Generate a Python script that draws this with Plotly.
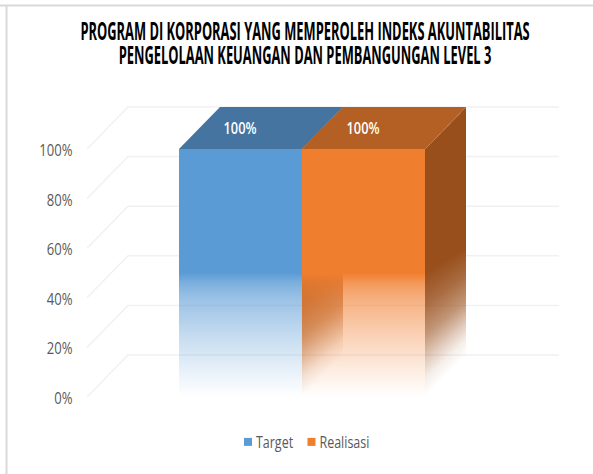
import plotly.graph_objects as go

TITLE_LINES = ["PROGRAM DI KORPORASI YANG MEMPEROLEH INDEKS AKUNTABILITAS",
               "PENGELOLAAN KEUANGAN DAN PEMBANGUNGAN LEVEL 3"]
series_names = ["Target", "Realisasi"]
series_values = [100, 100]
tick_values = [0, 20, 40, 60, 80, 100]
tick_labels = ["0%", "20%", "40%", "60%", "80%", "100%"]

W, H = 593, 474
FONT = "Open Sans"
L, R, T, B = 87, 34, 100, 77      # plot margins
BAR_PX = 123.0                     # one bar width, px
ORIGIN_PX = 302                    # px of the shared bar edge
Y_PX = 2.48                        # px per percent
DX = 41 / BAR_PX                   # depth in x units
DY = 42 / Y_PX                     # depth in y units
STRIPS = 41
PW, PH = W - L - R, H - T - B

FRONT = ["#5b9bd5", "#f07e2f"]
TOP = ["#44749f", "#b46025"]
SIDE = "#984f1c"
GRID = "#f1f1f1"

x_min = (L - ORIGIN_PX) / BAR_PX
x_max = (W - R - ORIGIN_PX) / BAR_PX
y_max = PH / Y_PX

FRONT_CURVE = [(0, 0.0), (0.24, 0.16), (0.5, 0.36), (0.8, 0.62), (0.92, 0.8), (1.0, 1.0)]
SIDE_CURVE = [(0, 0.0), (0.15, 0.1), (0.3, 0.3), (0.5, 0.6), (0.75, 0.84), (1.0, 1.0)]


def rgba(hexcol, a):
    r, g, b = int(hexcol[1:3], 16), int(hexcol[3:5], 16), int(hexcol[5:7], 16)
    return f"rgba({r},{g},{b},{a:.3f})"


def fade(hexcol, curve, solid=0.5):
    """Solid above `solid` of the bar height, fading out to nothing at its foot."""
    return [[p * solid, rgba(hexcol, a)] for p, a in curve] + [[1, rgba(hexcol, 1)]]


fig = go.Figure()


def poly(xs, ys, color=None, grad=None):
    fig.add_trace(go.Scatter(
        x=xs, y=ys, mode="lines", fill="toself", line=dict(width=0),
        fillcolor=color, fillgradient=grad, showlegend=False, hoverinfo="skip"))


# floor-to-wall gridlines
for v in tick_values:
    fig.add_trace(go.Scatter(
        x=[x_min, x_min + DX, x_max], y=[v, v + DY, v + DY], mode="lines",
        line=dict(color=GRID, width=1.5), showlegend=False, hoverinfo="skip"))


def front(x0, value, col):
    poly([x0, x0 + 1, x0 + 1, x0, x0], [0, 0, value, value, 0],
         grad=dict(type="vertical", colorscale=fade(col, FRONT_CURVE), start=0, stop=value))


def side(x0, value, col):
    for i in range(STRIPS):
        t0, t1 = i / STRIPS, (i + 1) / STRIPS
        sh = DY * (t0 + t1) / 2
        solid = 0.5 - 0.4 * sh / value
        poly([x0 + DX * t0, x0 + DX * t1, x0 + DX * t1, x0 + DX * t0, x0 + DX * t0],
             [DY * t0, DY * t1, value + DY * t1, value + DY * t0, DY * t0],
             grad=dict(type="vertical", colorscale=fade(col, SIDE_CURVE, solid), start=sh, stop=value + sh))


def top(x0, value, col):
    poly([x0, x0 + 1, x0 + 1 + DX, x0 + DX, x0],
         [value, value, value + DY, value + DY, value], color=col)


# Target bar
front(-1, series_values[0], FRONT[0])
top(-1, series_values[0], TOP[0])
# Realisasi bar: inner face shows through the faded front
side(0, series_values[1], SIDE)
front(0, series_values[1], FRONT[1])
top(0, series_values[1], TOP[1])
side(1, series_values[1], SIDE)

# data labels on the top faces
for x0, v in zip([-1, 0], series_values):
    fig.add_trace(go.Scatter(
        x=[x0 + 0.496], y=[v + DY / 2 - 0.8], mode="text", text=[f"{v}%"],
        textfont=dict(family=FONT, size=16, color="#ffffff", weight=600),
        textposition="middle center", showlegend=False, hoverinfo="skip"))

# legend entries
for name, col in zip(series_names, FRONT):
    fig.add_trace(go.Scatter(
        x=[None], y=[None], mode="markers", name=name,
        marker=dict(symbol="square", size=8, color=col)))

title_text = "<br>".join(f"<b>{s}</b>" for s in TITLE_LINES)

fig.update_layout(
    width=W, height=H, autosize=False,
    margin=dict(l=L, r=R, t=T, b=B),
    paper_bgcolor="white", plot_bgcolor="white",
    font=dict(family=FONT, color="#595959", size=16),
    title=dict(text=title_text, x=305 / W, xanchor="center", y=1 - 40 / H, yanchor="middle",
               font=dict(family=FONT, size=25, color="#000000")),
    xaxis=dict(range=[x_min, x_max], visible=False, fixedrange=True),
    yaxis=dict(range=[0, y_max], tickvals=tick_values, ticktext=tick_labels,
               showgrid=False, zeroline=False, showline=False,
               ticks="outside", ticklen=10, tickcolor="rgba(0,0,0,0)",
               tickfont=dict(family=FONT, size=17, color="#595959"), fixedrange=True),
    legend=dict(orientation="h", x=(228 - L) / PW, xanchor="left", y=(H - B - 442) / PH, yanchor="middle",
                font=dict(family=FONT, size=16, color="#595959"),
                itemwidth=30, traceorder="normal", bgcolor="rgba(0,0,0,0)"),
    shapes=[
        dict(type="line", xref="paper", yref="paper", x0=-L / PW, x1=1 + R / PW,
             y0=(H - B - 5.5) / PH, y1=(H - B - 5.5) / PH,
             line=dict(color="#d9d9d9", width=2)),
        dict(type="line", xref="paper", yref="paper", x0=(6.5 - L) / PW, x1=(6.5 - L) / PW,
             y0=-B / PH, y1=(H - B - 5) / PH,
             line=dict(color="#d9d9d9", width=2)),
    ],
)

# Page margin off; the reference's type is condensed, so narrow the real text in place.
POST = """
document.body.style.margin = '0';
function squeeze(sel, sx, origin, shift, dy) {
  document.querySelectorAll(sel).forEach(function (t) {
    var b = t.getBBox();
    var ox = origin === 'left' ? b.x : origin === 'right' ? b.x + b.width : b.x + b.width / 2;
    var old = t.getAttribute('transform') || '';
    t.setAttribute('transform', old + ' translate(' + (ox + (shift || 0)) + ',' + (dy || 0) + ') scale(' + sx + ',1) translate(' + (-ox) + ',0)');
  });
}
document.querySelectorAll('.gtitle tspan.line').forEach(function (l, i) {
  if (i > 0) l.setAttribute('dy', '24px');
});
squeeze('.gtitle', 0.515, 'center');
squeeze('.ytick text', 0.77, 'right', 0, 1);
squeeze('.legendtext', 0.78, 'left', -12);
squeeze('.textpoint text', 0.80, 'center');
var items = document.querySelectorAll('.legend .traces');
if (items.length > 1) {
  var m = /translate\\(([-\\d.]+)[ ,]+([-\\d.]+)\\)/.exec(items[0].getAttribute('transform'));
  items[1].setAttribute('transform', 'translate(' + (parseFloat(m[1]) + 63.5) + ',' + m[2] + ')');
}
"""

fig.write_html("out.html", post_script=POST, config={"displayModeBar": False})
